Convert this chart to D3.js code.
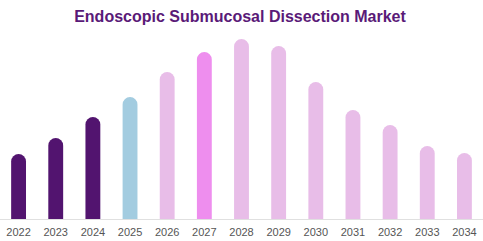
<!DOCTYPE html>
<html><head><meta charset="utf-8">
<script src="https://cdn.jsdelivr.net/npm/d3@7/dist/d3.min.js"></script>
<style>body{margin:0;background:#fff;}svg{display:block;}</style>
</head><body>
<script>
const years = ["2022","2023","2024","2025","2026","2027","2028","2029","2030","2031","2032","2033","2034"];
const values = [0.65,0.81,1.02,1.22,1.47,1.67,1.80,1.73,1.37,1.09,0.94,0.73,0.66];
const barColors = ["#52146F","#52146F","#52146F","#A3CCE0","#E8BDE8","#EE8EEE","#E8BDE8","#E8BDE8","#E8BDE8","#E8BDE8","#E8BDE8","#E8BDE8","#E8BDE8"];
const title = "Endoscopic Submucosal Dissection Market";

const W=483,H=241;
const svg=d3.select("body").append("svg").attr("width",W).attr("height",H);
const x=d3.scaleBand().domain(years).range([0,483]).paddingInner(0.6).paddingOuter(0.3);
const y=d3.scaleLinear().domain([0,1.80]).range([219,39]);

svg.append("text").attr("x",240).attr("y",22).attr("text-anchor","middle")
  .attr("font-family","Arial, Liberation Sans, sans-serif").attr("font-weight","bold").attr("font-size",16)
  .attr("fill","#5A1A78").text(title);

function barPath(d,i){
  const x0=x(years[i]), w=x.bandwidth(), r=w/2, yt=y(d), yb=y(0);
  return `M${x0},${yb}L${x0},${yt+r}A${r},${r} 0 0 1 ${x0+w},${yt+r}L${x0+w},${yb}Z`;
}
svg.selectAll("path.bar").data(values).enter().append("path").attr("class","bar")
  .attr("d",barPath).attr("fill",(d,i)=>barColors[i]);

const ax=svg.append("g").attr("transform","translate(0,219)").call(d3.axisBottom(x).tickSize(0).tickPadding(9));
ax.select(".domain").attr("stroke","#e0e0e0").attr("d","M0,0.5H483");
ax.selectAll("text").attr("font-family","Arial, Liberation Sans, sans-serif").attr("font-size",11).attr("fill","#555");
</script>
</body></html>
